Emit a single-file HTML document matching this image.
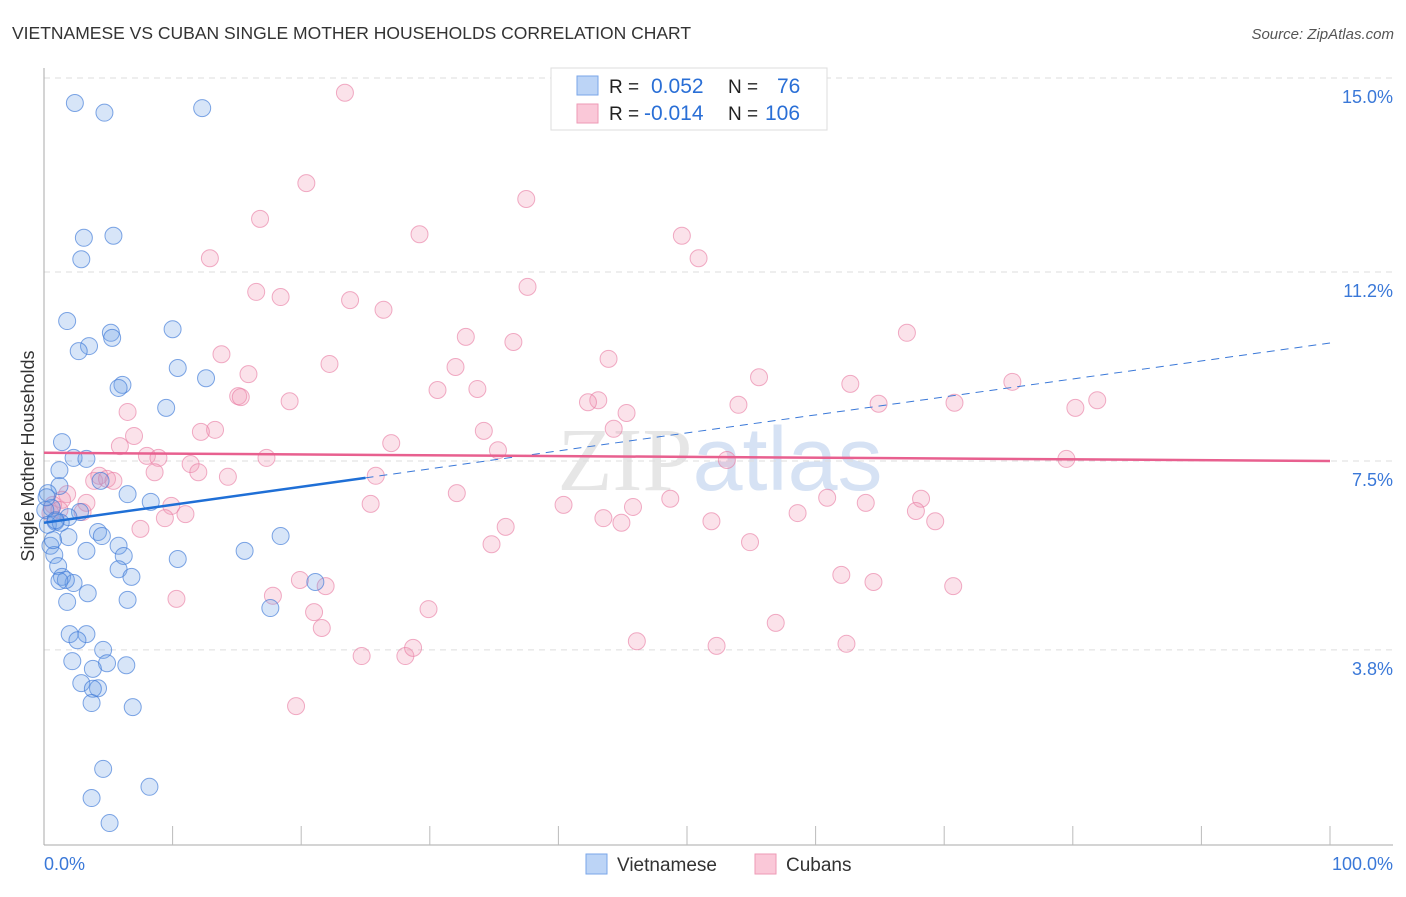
<!DOCTYPE html>
<html><head><meta charset="utf-8"><style>
body{margin:0;background:#fff;font-family:"Liberation Sans",sans-serif;}
</style></head><body>
<svg id="chart" width="1406" height="892" xmlns="http://www.w3.org/2000/svg">
<text x="12" y="39" font-size="17.5" fill="#333">VIETNAMESE VS CUBAN SINGLE MOTHER HOUSEHOLDS CORRELATION CHART</text>
<text x="1394" y="39" font-size="15" fill="#555" font-style="italic" text-anchor="end">Source: ZipAtlas.com</text>
<text x="720" y="490" font-size="90" fill="#e6e6e6" text-anchor="middle" font-family="Liberation Serif">ZIP<tspan fill="#d6e2f4" font-family="Liberation Sans">atlas</tspan></text>
<g id="grid"></g><g id="axes"></g><g id="pts"></g><g id="lines"></g>
<text transform="translate(34,456) rotate(-90)" font-size="18" fill="#333" text-anchor="middle">Single Mother Households</text>
<g>
<rect x="551" y="68" width="276" height="62" fill="#fff" stroke="#ddd"/>
<rect x="577" y="76" width="21" height="19" fill="#bcd4f6" stroke="#7aa6e8"/>
<rect x="577" y="104" width="21" height="19" fill="#fac8d8" stroke="#ee9ab6"/>
<text x="609" y="93" font-size="19" fill="#222">R = </text><text x="651" y="93" font-size="21" fill="#2a6fd6">0.052</text>
<text x="728" y="93" font-size="19" fill="#222">N = </text><text x="777" y="93" font-size="21" fill="#2a6fd6">76</text>
<text x="609" y="120" font-size="19" fill="#222">R = </text><text x="644" y="120" font-size="21" fill="#2a6fd6">-0.014</text>
<text x="728" y="120" font-size="19" fill="#222">N = </text><text x="765" y="120" font-size="21" fill="#2a6fd6">106</text>
</g>
<g>
<rect x="586" y="854" width="21" height="20" fill="#bcd4f6" stroke="#7aa6e8"/>
<text x="617" y="871" font-size="19" fill="#333">Vietnamese</text>
<rect x="755" y="854" width="21" height="20" fill="#fac8d8" stroke="#ee9ab6"/>
<text x="786" y="871" font-size="19" fill="#333">Cubans</text>
</g>
</svg>
<script>
const yTicks=[15.0,11.2,7.5,3.8];
const yTickLabels=["15.0%","11.2%","7.5%","3.8%"];
const xTickLabels=["0.0%","100.0%"];
const blueX=[2.4,4.7,12.3,3.1,5.4,2.9,1.8,5.2,5.3,10.0,3.5,2.7,10.4,12.6,6.1,5.8,9.5,1.4,2.3,3.3,4.4,1.2,6.5,8.3,0.3,0.6,2.8,0.1,1.9,0.9,0.3,1.3,4.2,4.5,1.9,0.5,3.3,5.8,6.2,0.8,10.4,15.6,18.4,1.1,5.8,6.8,1.4,2.3,1.7,1.2,3.4,6.5,1.8,17.6,21.1,2.0,3.3,2.6,4.6,2.2,4.9,6.4,3.8,2.9,4.2,3.8,3.7,6.9,4.6,8.2,3.7,5.1,0.7,0.9,0.2,1.2];
const blueY=[14.51,14.32,14.41,11.87,11.91,11.45,10.24,10.01,9.91,10.08,9.75,9.65,9.32,9.12,8.99,8.93,8.54,7.87,7.56,7.54,7.11,7.01,6.85,6.70,6.87,6.58,6.50,6.54,6.40,6.31,6.25,6.29,6.11,6.03,6.01,5.84,5.74,5.84,5.64,5.66,5.58,5.74,6.03,5.44,5.38,5.23,5.23,5.11,5.17,5.15,4.91,4.78,4.74,4.62,5.13,4.11,4.11,3.99,3.80,3.58,3.54,3.50,3.43,3.15,3.05,3.04,2.76,2.68,1.47,1.12,0.90,0.41,5.95,6.34,6.79,7.32];
const pinkX=[23.4,20.4,37.5,16.8,29.2,49.6,12.9,50.9,16.5,18.4,23.8,37.6,26.4,67.1,32.8,36.5,13.8,22.2,32.0,43.9,15.9,55.6,62.7,75.3,30.6,33.7,15.1,15.3,19.1,43.1,42.3,54.0,64.9,70.8,81.9,80.2,45.3,6.5,44.3,34.2,13.3,12.2,7.0,27.0,5.9,35.3,8.0,8.9,17.3,11.4,53.1,79.5,12.0,14.3,8.6,25.8,3.9,4.3,4.9,5.4,32.1,48.7,60.9,63.9,68.2,1.8,1.4,0.7,3.3,25.4,40.4,45.8,9.9,11.0,9.4,3.0,0.5,1.2,58.6,67.8,43.5,44.9,51.9,69.3,7.5,35.9,54.9,34.8,19.9,62.0,64.5,70.7,21.9,17.8,10.3,21.0,29.9,21.6,56.9,46.1,52.3,62.4,24.7,28.1,28.7,19.6];
const pinkY=[14.71,12.94,12.63,12.24,11.94,11.91,11.47,11.47,10.81,10.71,10.65,10.91,10.46,10.01,9.93,9.83,9.59,9.40,9.34,9.50,9.20,9.14,9.01,9.05,8.89,8.91,8.77,8.75,8.67,8.69,8.65,8.60,8.62,8.64,8.69,8.54,8.44,8.46,8.13,8.09,8.11,8.07,7.99,7.85,7.79,7.71,7.60,7.56,7.56,7.44,7.52,7.54,7.28,7.19,7.28,7.21,7.11,7.21,7.15,7.11,6.87,6.76,6.78,6.68,6.76,6.85,6.74,6.64,6.68,6.66,6.64,6.60,6.62,6.46,6.38,6.50,6.48,6.54,6.48,6.52,6.38,6.29,6.32,6.32,6.17,6.21,5.91,5.87,5.17,5.27,5.13,5.05,5.05,4.86,4.80,4.54,4.60,4.23,4.33,3.97,3.88,3.92,3.68,3.68,3.84,2.70];
const blueTrend=[6.29,9.81];const blueSolidEnd=25;
const pinkTrend=[7.66,7.50];
const NS="http://www.w3.org/2000/svg";
const X=v=>44+v*12.86;
const Y=v=>844-v*51.07;
function mk(tag,attrs,parent){const e=document.createElementNS(NS,tag);for(const k in attrs)e.setAttribute(k,attrs[k]);document.getElementById(parent).appendChild(e);return e;}
yTicks.forEach((t,i)=>{
 const l=mk('line',{x1:44,x2:1393,y1:Y(t),y2:Y(t),stroke:'#ddd','stroke-dasharray':'6,5'},'grid');
 
 
 const tx=mk('text',{x:1393,y:Y(t)+25,'font-size':18,fill:'#3a78d8','text-anchor':'end'},'grid');
 tx.textContent=yTickLabels[i];
 
 
});
mk('line',{x1:44,x2:44,y1:68,y2:845,stroke:'#aaa'},'axes');
mk('line',{x1:44,x2:1393,y1:845,y2:845,stroke:'#aaa'},'axes');
for(let i=1;i<=10;i++){const t=mk('line',{x1:X(i*10),x2:X(i*10),y1:826,y2:845,stroke:'#bbb'},'axes');
 
 }
const xl0=mk('text',{x:44,y:870,'font-size':18,fill:'#3a78d8'},'axes');xl0.textContent=xTickLabels[0];


const xl1=mk('text',{x:1393,y:870,'font-size':18,fill:'#3a78d8','text-anchor':'end'},'axes');xl1.textContent=xTickLabels[1];


pinkX.forEach((v,i)=>{const c=mk('circle',{cx:X(v),cy:Y(pinkY[i]),r:8.5,fill:'rgba(242,150,180,0.28)',stroke:'rgba(232,120,160,0.6)','stroke-width':1},'pts');
 
 });
blueX.forEach((v,i)=>{const c=mk('circle',{cx:X(v),cy:Y(blueY[i]),r:8.5,fill:'rgba(110,160,230,0.28)',stroke:'rgba(60,120,215,0.65)','stroke-width':1},'pts');
 
 });
const bAt=x=>blueTrend[0]+(blueTrend[1]-blueTrend[0])*x/100;
const bs=mk('line',{x1:X(0),y1:Y(bAt(0)),x2:X(blueSolidEnd),y2:Y(bAt(blueSolidEnd)),stroke:'#1f6fd6','stroke-width':2.5},'lines');


const bd=mk('line',{x1:X(blueSolidEnd),y1:Y(bAt(blueSolidEnd)),x2:X(100),y2:Y(bAt(100)),stroke:'#3a78d8','stroke-width':1,'stroke-dasharray':'8,6'},'lines');


const pl=mk('line',{x1:X(0),y1:Y(pinkTrend[0]),x2:X(100),y2:Y(pinkTrend[1]),stroke:'#e8608f','stroke-width':2.5},'lines');


</script>
</body></html>
